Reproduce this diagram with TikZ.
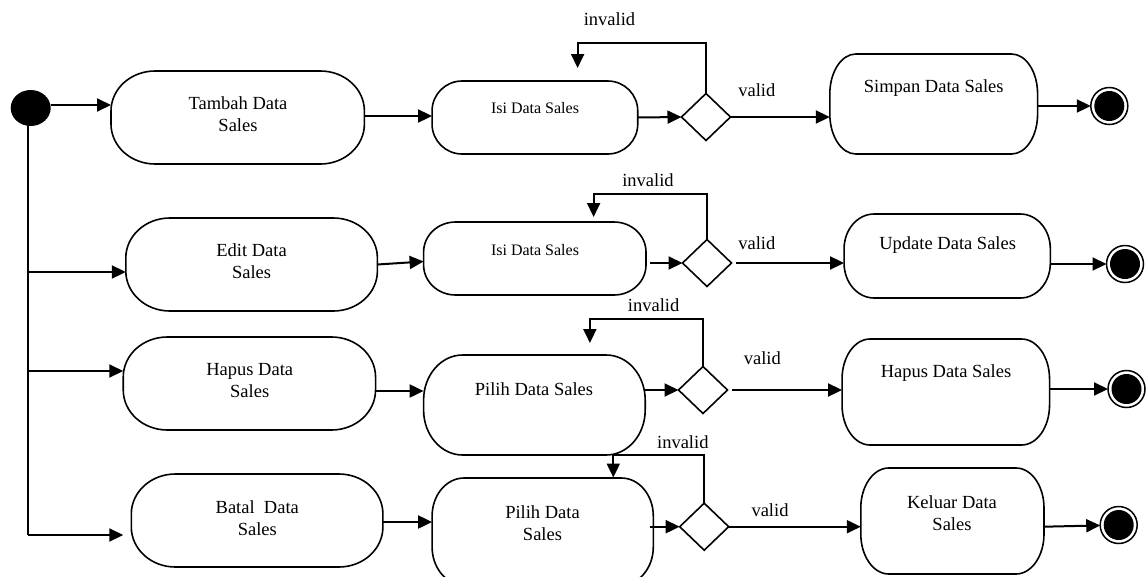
\documentclass[tikz,border=0pt]{standalone}
\usepackage{fontspec}
\setmainfont{Liberation Serif}
\usetikzlibrary{arrows.meta,shapes.geometric}
\tikzset{
  every node/.style={inner sep=0pt, outer sep=0pt},
  actnode/.style={rectangle, draw=none},
  actline/.style={line width=1.6pt},
  arr/.style={line width=2pt, -{Triangle[length=14pt,width=13pt]}},
  ln/.style={line width=1.7pt},
  dec/.style={diamond, draw, line width=1.6pt, minimum width=49pt, minimum height=47pt, fill=white},
  startnode/.style={ellipse, fill=black, minimum width=40pt, minimum height=36pt},
  endnode/.style={circle, draw, line width=1.5pt, minimum size=37pt,
    path picture={\fill[black] (path picture bounding box.center) circle (15pt);}},
  lbl/.style={font=\fontsize{18.5}{22}\selectfont, align=center},
  smalllbl/.style={font=\fontsize{16}{20}\selectfont, align=center},
}
% name, x, y, w, h, rx, ry
\newcommand\actbox[7]{%
  \node[actnode, minimum width=#4pt, minimum height=#5pt] (#1) at (#2,#3) {};
  \draw[actline] ([xshift=#6pt]#1.north west) -- ([xshift=-#6pt]#1.north east)
    arc[start angle=90,end angle=0,x radius=#6pt,y radius=#7pt]
    -- ([yshift=#7pt]#1.south east)
    arc[start angle=0,end angle=-90,x radius=#6pt,y radius=#7pt]
    -- ([xshift=#6pt]#1.south west)
    arc[start angle=270,end angle=180,x radius=#6pt,y radius=#7pt]
    -- ([yshift=-#7pt]#1.north west)
    arc[start angle=180,end angle=90,x radius=#6pt,y radius=#7pt] -- cycle;
}
\begin{document}
\begin{tikzpicture}[x=1pt,y=-1pt]
\useasboundingbox (0,0) rectangle (1146,576);

% start
\node[startnode] (start) at (30.7,108) {};

% row 1
\actbox{tambah}{237.7}{117.5}{253.4}{93}{44}{40}
\node[lbl] (ttambah) at (238,114.5) {Tambah Data\\Sales};
\actbox{isia}{534.9}{117.5}{205.7}{73}{30}{30}
\node[smalllbl] (tisia) at (535,108) {Isi Data Sales};
\node[dec] (d1) at (706,117) {};
\actbox{simpan}{933.7}{104}{207.8}{100}{26}{40}
\node[lbl] (tsimpan) at (933.7,88) {Simpan Data Sales};
\node[endnode] (e1) at (1109.3,106) {};

% row 2
\actbox{edit}{251.6}{264.5}{251.6}{93}{44}{40}
\node[lbl] (tedit) at (251.6,261) {Edit Data\\Sales};
\actbox{isib}{534.8}{258.5}{222.4}{73}{32}{30}
\node[smalllbl] (tisib) at (535,250) {Isi Data Sales};
\node[dec] (d2) at (707,263) {};
\actbox{update}{947.2}{256}{206.3}{84}{30}{35}
\node[lbl] (tupdate) at (947.7,245) {Update Data Sales};
\node[endnode] (e2) at (1125,264) {};

% row 3
\actbox{hapus}{249.4}{383.5}{252.3}{93}{44}{40}
\node[lbl] (thapus) at (249.7,381) {Hapus Data\\Sales};
\actbox{pilih3}{534.4}{405}{221.6}{100}{39}{45}
\node[lbl] (tpilih3) at (534,389) {Pilih Data Sales};
\node[dec] (d3) at (703,390) {};
\actbox{hapusds}{945.8}{392}{207.5}{106}{28}{40}
\node[lbl] (thapusds) at (946,373) {Hapus Data Sales};
\node[endnode] (e3) at (1126.5,389) {};

% row 4
\actbox{batal}{257.1}{520.5}{251.6}{93}{44}{40}
\node[lbl] (tbatal) at (257.3,518) {Batal~ Data\\Sales};
\actbox{pilih4}{542.7}{531.5}{221.2}{107}{32}{38}
\node[lbl] (tpilih4) at (542.5,523.5) {Pilih Data\\Sales};
\node[dec] (d4) at (704.2,526.7) {};
\actbox{keluar}{952.4}{521}{183.2}{106}{28}{40}
\node[lbl] (tkeluar) at (952,513) {Keluar Data\\Sales};
\node[endnode] (e4) at (1118.7,525) {};

% guard labels
\node[lbl] (inv1) at (609.5,19) {invalid};
\node[lbl] (inv2) at (648,180) {invalid};
\node[lbl] (inv3) at (653.6,305) {invalid};
\node[lbl] (inv4) at (682.8,441.7) {invalid};
\node[lbl] (val1) at (756.8,90) {valid};
\node[lbl] (val2) at (756.8,243) {valid};
\node[lbl] (val3) at (762.3,358) {valid};
\node[lbl] (val4) at (770,510) {valid};

% fork from start
\coordinate (j1) at (27.7,272);
\coordinate (j2) at (27.7,371);
\coordinate (j3) at (27.7,535);
\draw[ln] (start.center -| j3) -- (j3);
\draw[arr] (j1) -- (j1 -| edit.west);
\draw[arr] (j2) -- (j2 -| hapus.west);
\draw[arr] (j3) -- ([xshift=-8pt]j3 -| batal.west);
\draw[arr] ([yshift=3pt]start.east) -- ([yshift=3pt]start.east -| tambah.west);

% row 1 connectors
\draw[arr] ([yshift=1.5pt]tambah.east) -- ([yshift=1.5pt]tambah.east -| isia.west);
\draw[arr] (isia.east) -- (d1.west);
\draw[arr] (d1.east) -- (d1.east -| simpan.west);
\draw[arr] (simpan.east |- e1) -- (e1);
\coordinate (l1a) at (577.6,43);
\coordinate (l1b) at (577.6,68);
\draw[arr] (d1.north) |- (l1a) -- (l1b);

% row 2 connectors
\draw[arr] (edit.east) -- ([yshift=-3pt]isib.west);
\draw[arr] ([xshift=3.7pt]isib.east |- d2) -- (d2.west);
\draw[arr] ([xshift=4.4pt]d2.east) -- (d2 -| update.west);
\draw[arr] (update.east |- e2) -- (e2);
\coordinate (l2a) at (593.6,194);
\coordinate (l2b) at (593.6,217);
\draw[arr] (d2.north) |- (l2a) -- (l2b);

% row 3 connectors
\draw[arr] ([yshift=-7.5pt]hapus.east) -- ([yshift=-7.5pt]hapus.east -| pilih3.west);
\draw[arr] (pilih3.east |- d3) -- (d3.west);
\draw[arr] ([xshift=4pt]d3.east) -- (d3 -| hapusds.west);
\draw[arr] (hapusds.east |- e3) -- (e3);
\coordinate (l3a) at (589.9,319);
\coordinate (l3b) at (589.9,343);
\draw[arr] (d3.north) |- (l3a) -- (l3b);

% row 4 connectors
\draw[arr] ([yshift=-1.5pt]batal.east) -- ([yshift=-1.5pt]batal.east -| pilih4.west);
\draw[arr] ([xshift=-3pt]pilih4.east |- d4) -- (d4.west);
\draw[arr] (d4.east) -- (d4 -| keluar.west);
\draw[arr] (keluar.east |- d4) -- (e4);
\coordinate (l4a) at (613.3,454.5);
\coordinate (l4b) at (613.3,477.5);
\draw[arr] (d4.north) |- (l4a) -- (l4b);
\end{tikzpicture}
\end{document}
